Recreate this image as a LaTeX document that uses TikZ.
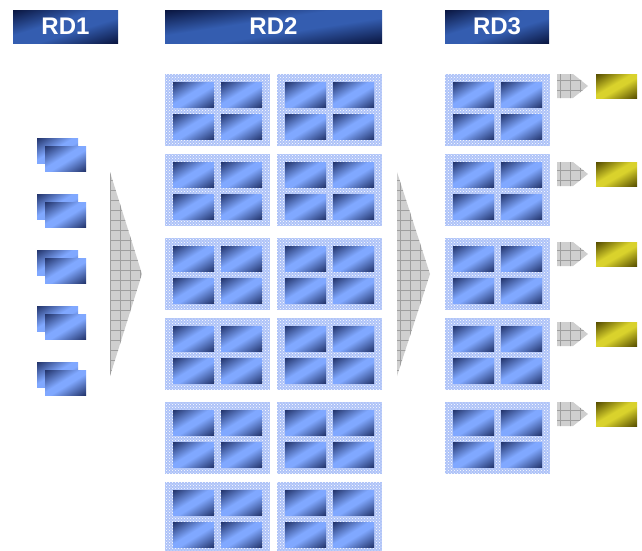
\documentclass[tikz,border=0pt]{standalone}
\usepackage{fontspec}
\setmainfont{Liberation Sans}
\usetikzlibrary{patterns}
\definecolor{cellbg}{HTML}{AEC3F8}
% dark corners top-left and bottom-right, light band along the other diagonal
\pgfdeclarefunctionalshading{headshade}{\pgfpoint{0bp}{0bp}}{\pgfpoint{100bp}{100bp}}{}{
  sub 50 div abs neg 1 add 1.3 mul dup 1 gt {pop 1} if dup 0 lt {pop 0} if
  dup dup 0.165 mul 0.039 add 3 1 roll 0.279 mul 0.086 add exch 0.439 mul 0.251 add
}
\pgfdeclarefunctionalshading{tileshade}{\pgfpoint{0bp}{0bp}}{\pgfpoint{100bp}{100bp}}{}{
  sub 50 div abs neg 1 add 1.15 mul dup 1 gt {pop 1} if dup 0 lt {pop 0} if
  dup dup 0.369 mul 0.133 add 3 1 roll 0.459 mul 0.2 add exch 0.584 mul 0.416 add
}
\pgfdeclarefunctionalshading{chipshade}{\pgfpoint{0bp}{0bp}}{\pgfpoint{100bp}{100bp}}{}{
  sub 50 div abs neg 1 add 1.15 mul dup 1 gt {pop 1} if dup 0 lt {pop 0} if
  dup dup 0.518 mul 0.333 add 3 1 roll 0.526 mul 0.298 add exch 0.173 mul 0.0 add
}

\begin{document}
\begin{tikzpicture}[
    x=1pt, y=-1pt,
    head/.style={shading=headshade, text=white, inner sep=0pt,
                 minimum height=33, font=\fontsize{24}{26}\selectfont\bfseries},
    cellbox/.style={fill=cellbg, postaction={pattern=crosshatch dots, pattern color=white}},
    tile/.style={shading=tileshade},
    chip/.style={shading=chipshade},
    hatch/.style={draw=gray!75, line width=0.6pt},
    cell/.pic={
      \path[cellbox] (0,0) rectangle (105,72);
      \foreach \i in {0,1} \foreach \j in {0,1}
        \path[tile] (8+48*\i,8+32*\j) rectangle ++(41,25);
    },
]
\useasboundingbox (0,0) rectangle (642,550);

% Headers
\node[head, minimum width=105] (rd1) at (65.5,26.5) {RD1};
\node[head, minimum width=217] (rd2) at (273.5,26.5) {RD2};
\node[head, minimum width=104] (rd3) at (497,26.5) {RD3};

% RD1 inputs
\foreach \k in {0,...,4}{
  \path[tile] (37,138+56*\k) rectangle ++(41,25);
  \path[tile] (45,146+56*\k) rectangle ++(41,25);
}

% RD2 grid
\foreach \y [count=\r] in {74,154,238,318,402,482}{
  \pic (rdtwo-a\r) at (165,\y) {cell};
  \pic (rdtwo-b\r) at (277,\y) {cell};
}

% RD3 column
\foreach \y [count=\r] in {74,154,238,318,402}
  \pic (rdthree-\r) at (445,\y) {cell};

% Funnels
\foreach \xa/\xb in {110/142,397/430}{
  \begin{scope}
    \clip (\xa,172) -- (\xb,274) -- (\xa,376) -- cycle;
    \fill[gray!38] (\xa-5,165) rectangle (\xb+5,380);
    \draw[hatch, step=10pt] (\xa-5,165) grid (\xb+5,380);
  \end{scope}
}

% Outputs
\foreach \y in {74,162,242,322,402}{
  \begin{scope}
    \clip (557,\y) -- ++(16,0) -- ++(15,12) -- ++(-15,12) -- ++(-16,0) -- cycle;
    \fill[gray!38] (550,\y-5) rectangle (595,\y+30);
    \draw[hatch, step=10pt] (550,\y-5) grid (595,\y+30);
  \end{scope}
  \path[chip] (596,\y) rectangle ++(41,24);
}
\end{tikzpicture}
\end{document}
